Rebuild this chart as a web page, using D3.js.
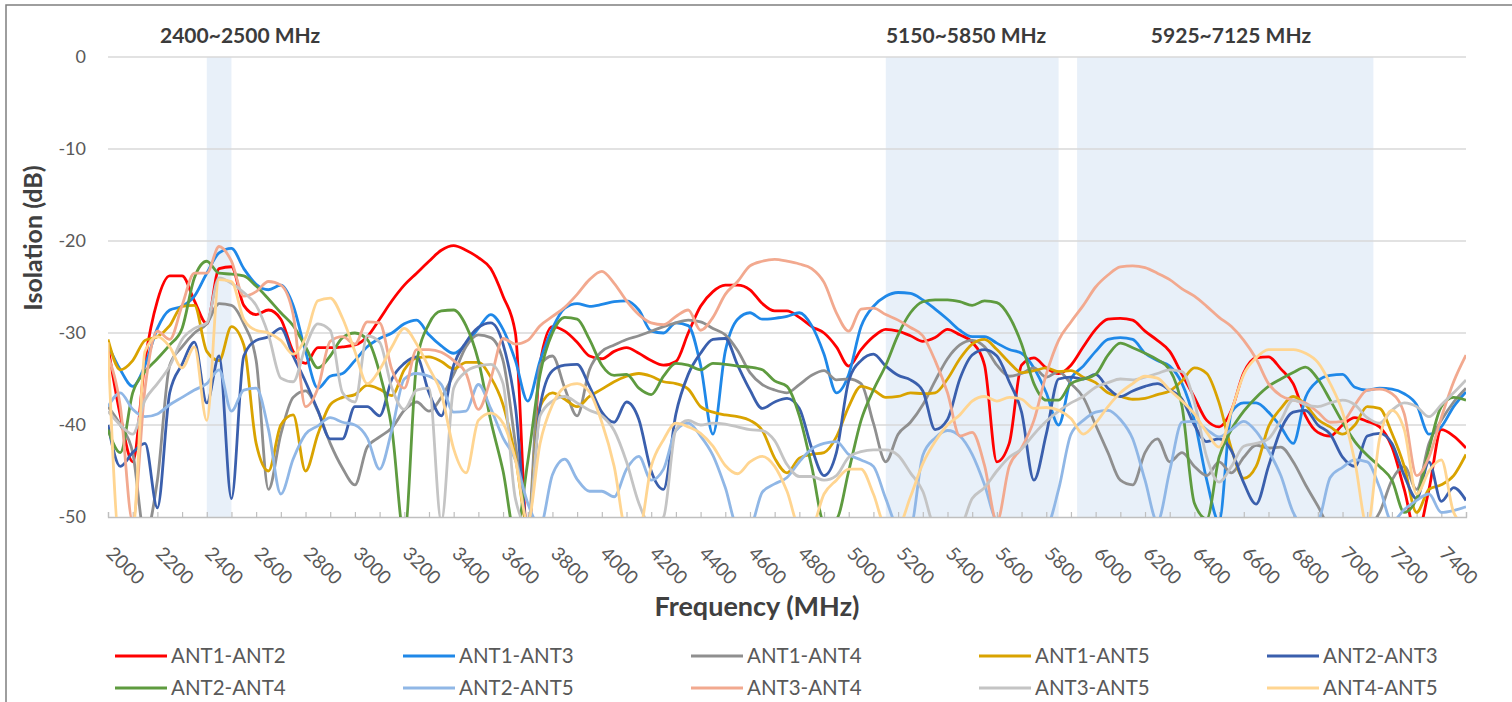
<!DOCTYPE html>
<html>
<head>
<meta charset="utf-8">
<script src="https://cdn.jsdelivr.net/npm/d3@7"></script>
<style>
  html, body { margin: 0; padding: 0; background: #fff; }
  svg { display: block; font-family: Lato, "Open Sans", sans-serif; }
</style>
</head>
<body>
<svg id="chart" width="1512" height="702"></svg>
<script>
// frequency sweep (MHz), one point every 50 MHz
const freqs = d3.range(2000, 7550, 50);

const seriesNames = ['ANT1-ANT2', 'ANT1-ANT3', 'ANT1-ANT4', 'ANT1-ANT5', 'ANT2-ANT3',
                     'ANT2-ANT4', 'ANT2-ANT5', 'ANT3-ANT4', 'ANT3-ANT5', 'ANT4-ANT5'];
const seriesColors = ['#ff0000', '#1f88e8', '#8f8f8f', '#d9a300', '#3a5fad',
                      '#5e9b3f', '#90b7e6', '#f2a98f', '#c4c4c4', '#ffd591'];

// isolation values (dB), rows of 10 points = 500 MHz each
const ant1ant2 = [
  -31.5,-39,-44,-33,-26.5,-23.8,-23.8,-26.5,-29,-23,
  -22.8,-27,-28,-27.5,-28.5,-32,-33.3,-31.6,-31.6,-31.5,
  -31.3,-30.4,-28.5,-26.5,-24.8,-23.5,-22.2,-21,-20.5,-21,
  -21.8,-23,-26,-30,-52,-33.3,-29.3,-29.8,-31,-32.5,
  -32.8,-32,-31.6,-32.2,-33,-33.5,-33.1,-30,-27.1,-25.5,
  -24.8,-24.8,-25.3,-26.8,-27.6,-27.6,-28.3,-29.3,-30,-31.5,
  -33.6,-31.8,-30.4,-29.6,-29.8,-30.3,-30.9,-30.5,-29.6,-30.2,
  -31,-33.5,-44,-42,-33.5,-32.7,-33.8,-34.4,-33.5,-31.5,
  -29.6,-28.5,-28.4,-28.6,-29.8,-30.8,-32,-34.5,-37,-39.5,
  -40.2,-38.4,-34.3,-32.7,-32.6,-33.9,-35.5,-39,-40.8,-41.2,
  -40,-39.2,-39.6,-40.2,-42.4,-47,-52,-47,-40.5,-41.2,
  -42.5
];
const ant1ant3 = [
  -31.3,-34,-35.8,-33.5,-29.5,-27.5,-27.1,-26,-23.5,-21.3,
  -20.8,-23,-24.7,-25.3,-24.8,-27,-32,-36,-34.7,-34.4,
  -33,-31.5,-30.6,-30,-29,-28.6,-30.2,-31.4,-32.2,-31.2,
  -29.5,-28,-29.6,-33,-37.4,-33,-29.5,-27.3,-26.8,-27.1,
  -26.9,-26.6,-26.5,-27.5,-29.8,-30,-28.9,-29.2,-33.5,-41,
  -32,-28.5,-27.8,-28.5,-28.4,-28.2,-27.8,-29.2,-32.3,-36.5,
  -34.5,-29.3,-27.1,-26,-25.6,-25.7,-26.4,-27.4,-28.5,-29.7,
  -30.4,-30.4,-31.1,-31.8,-32.2,-33.8,-36.5,-40,-35,-33.6,
  -32,-30.7,-30.5,-30.7,-32.2,-33,-33.6,-35.5,-39.5,-46,
  -50.5,-38.6,-37.6,-37.6,-38.6,-40.2,-42,-37,-35.2,-34.6,
  -34.5,-35.9,-36.2,-36,-36.1,-36.6,-37.8,-41,-40.2,-38,
  -36.4
];
const ant1ant4 = [
  -38,-40,-43,-52,-46,-33.5,-31.5,-30,-29,-26.8,
  -27,-29,-33,-47,-41,-37,-36.3,-38.5,-42,-44.7,
  -46.5,-42.4,-41.3,-40.3,-38.4,-37.5,-38.5,-37,-34.5,-31.5,
  -30.2,-30.5,-33,-42,-51,-33.5,-32.5,-36,-39,-34,
  -32,-31.3,-30.7,-30.3,-29.8,-29.3,-28.9,-28.6,-28.8,-29.5,
  -30.2,-31.9,-34.3,-35.6,-36.2,-36.5,-35.6,-34.6,-34.1,-35.1,
  -35,-35.5,-39.8,-44,-41,-39.7,-37.8,-35.2,-32.8,-31.3,
  -30.8,-31.5,-33.5,-34.7,-34.4,-33.8,-34.8,-34.2,-35.5,-37,
  -40,-43,-46,-46.5,-43,-41.5,-44,-43,-44.5,-45.5,
  -44,-45.2,-43.5,-42.2,-42.5,-42.4,-44,-46.5,-48.8,-51,
  -51,-51,-51,-49.5,-46,-44.5,-47,-42,-39.5,-37.5,
  -36
];
const ant1ant5 = [
  -30.7,-34,-33,-30.8,-30.4,-29.2,-27.1,-27,-32,-33,
  -29.3,-31.3,-42,-45,-40,-38.9,-45,-41,-37.8,-37,
  -36.7,-35.7,-36.1,-36.8,-34,-32.7,-32.6,-33.1,-33.9,-33.2,
  -33.2,-34.8,-37.8,-43.5,-51,-38,-36.5,-37.2,-38,-36.9,
  -36.1,-35.3,-34.7,-34.4,-34.7,-35.3,-35.5,-36.1,-38,-38.6,
  -38.9,-39.1,-39.5,-40.6,-43.6,-45.2,-43.6,-43.2,-43,-41.3,
  -38,-35.8,-36.2,-37,-36.9,-36.5,-36.6,-36.5,-35,-32.8,
  -31.2,-30.7,-31.8,-33.2,-34.3,-34.1,-33.8,-34.2,-34.1,-34.8,
  -35.4,-36.5,-36.9,-37.2,-37.1,-36.7,-36.3,-35.2,-33.8,-34.4,
  -37.6,-42.6,-45.8,-44.5,-40.2,-38.2,-36.9,-37.8,-39.4,-40.2,
  -41,-40,-38,-38.2,-40.9,-44.5,-49.5,-47,-46.5,-45.5,
  -43.2
];
const ant2ant3 = [
  -40,-44.5,-43,-42,-49,-36.5,-33.4,-31,-37.6,-32.5,
  -48,-32.5,-30.8,-30.4,-29.5,-32.5,-35.3,-38.4,-41.5,-41.5,
  -38,-38,-39,-35,-33.3,-32.6,-36.5,-39,-33.5,-31,
  -29.4,-28.9,-31.2,-38,-51,-38,-34.1,-33.5,-33.4,-35.8,
  -38.6,-39.7,-37.5,-39.4,-45,-47,-38.8,-34.5,-32.2,-30.7,
  -30.6,-33.5,-36.2,-38.2,-37.5,-37.1,-38.2,-42.5,-45.5,-43,
  -35.2,-33,-32.3,-33.6,-34.6,-35.1,-36.3,-40.5,-39.4,-35,
  -32.4,-31.8,-32.5,-35.3,-38.6,-46,-41,-35,-34.8,-35,
  -34.5,-36,-36.9,-36.3,-35.8,-35.5,-36.2,-37.2,-40,-41.8,
  -41.5,-42.8,-46.3,-48.6,-44.5,-40.5,-38.6,-38.4,-40,-41,
  -43.5,-44.5,-41.2,-40.9,-42,-45.5,-48,-44,-48.3,-46.8,
  -48.2
];
const ant2ant4 = [
  -40.5,-43,-36.5,-34.2,-32.8,-31.3,-29.5,-24,-22.2,-23.5,
  -23.6,-23.8,-24.9,-26.3,-27.8,-29.2,-31.5,-33.8,-32.5,-30.5,
  -30,-30.7,-34.3,-40.5,-52,-33.3,-29,-27.6,-27.5,-29.2,
  -33,-39.5,-45,-52,-44,-34.5,-30,-28.3,-28.5,-30.7,
  -33.5,-34.6,-34.5,-36,-36.7,-34.7,-33.3,-33.5,-34,-33.3,
  -33.4,-33.6,-33.7,-34,-35.2,-35.8,-39,-44.5,-50.5,-50.2,
  -45,-39.5,-36.2,-33.5,-30.2,-27.8,-26.6,-26.4,-26.4,-26.6,
  -27,-26.5,-26.7,-28.2,-31.2,-35.5,-37.3,-37.3,-35.5,-35,
  -34.5,-32.4,-31.1,-31.6,-32.2,-32.9,-34,-38,-48.5,-50.2,
  -43.5,-40.5,-38.5,-37,-35.8,-35,-34.3,-33.7,-35,-37.3,
  -39.7,-41.8,-43.3,-44.5,-46,-49.5,-48,-42.6,-38,-37,
  -37.3
];
const ant2ant5 = [
  -38,-36.5,-38.3,-39.1,-38.8,-37.8,-37,-36.2,-35.5,-34,
  -38.5,-36.2,-36,-40.5,-47.5,-43.7,-41,-40.1,-39.2,-39.7,
  -40,-41.4,-44.8,-40.5,-35,-34.4,-34.7,-35.6,-38.6,-38.5,
  -35.6,-38.2,-41.4,-43.8,-48.5,-51,-45.4,-43.7,-45.9,-47.2,
  -47.2,-47.8,-44.8,-43.4,-46,-44.8,-40.6,-39.8,-41.2,-43.3,
  -46.8,-51,-51,-47.3,-46.4,-45.7,-44,-42.6,-42,-41.8,
  -43.2,-43.8,-44.5,-48,-51,-51,-43.3,-41.4,-40.6,-41.2,
  -43.2,-46.5,-50.5,-51,-51,-51,-51,-47,-41,-39.5,
  -38.6,-38.4,-39.4,-41.5,-46,-50.5,-45,-39.7,-39.6,-40.5,
  -41.3,-40.5,-39.6,-40.7,-42.8,-45.5,-49.5,-51,-50.5,-45.7,
  -44.6,-43.8,-44,-46.8,-50.5,-49.2,-48.2,-47.5,-49.5,-49.3,
  -48.9
];
const ant3ant4 = [
  -32.5,-38,-50.5,-36,-29.8,-30.7,-27,-23.5,-23.5,-20.6,
  -22.2,-26,-25.5,-24.4,-24.8,-28,-38,-36,-30.9,-30.4,
  -31.2,-28.8,-28.9,-34,-36,-31.8,-31.8,-32.1,-33,-34.4,
  -38.3,-35,-30.6,-31.2,-30.8,-29.2,-28.2,-27.2,-25.8,-24.2,
  -23.3,-24.6,-26.5,-28,-28.9,-29.1,-28.2,-27.5,-29.7,-28.3,
  -25.8,-24.4,-22.7,-22.2,-22,-22.2,-22.5,-23,-24.5,-27.8,
  -29.8,-27.4,-27.3,-28,-28.6,-29.4,-30.3,-33,-36.5,-41.2,
  -40.8,-44.4,-50.5,-44.5,-42.5,-39.5,-34.5,-30.8,-28.8,-27,
  -25,-23.7,-22.8,-22.7,-22.9,-23.5,-24.2,-25.2,-26,-27.1,
  -28.3,-29.3,-30.8,-32.8,-35.5,-36.8,-37.3,-37.6,-38.6,-39.7,
  -39.6,-37.8,-36.2,-36.1,-36.6,-38.8,-45.5,-43.5,-39.2,-35.3,
  -32.4
];
const ant3ant5 = [
  -38.5,-40,-41,-37.3,-35.5,-33.6,-30.7,-29.5,-28.9,-24,
  -24.6,-25.6,-27,-30.2,-34.9,-35.3,-31.5,-29,-29.7,-36.5,
  -37.5,-30.3,-31,-36,-38.3,-36.2,-36,-50.5,-36,-34.2,
  -33.6,-33.4,-35.5,-48,-51,-39,-37.4,-36.9,-37.6,-38.4,
  -39,-40.6,-44,-48.5,-51,-50,-40.5,-39.5,-40,-39.8,
  -39.9,-40.2,-40.5,-40.6,-41.7,-44.3,-45.6,-45.6,-46,-45.5,
  -43.5,-42.9,-42.7,-42.7,-43.3,-45.2,-47.2,-51,-51,-51,
  -48,-46.8,-45,-43.5,-42.6,-41,-39.6,-38.5,-37.6,-36.9,
  -35.9,-35.4,-35,-35.1,-34.8,-34.4,-34,-34.2,-37.5,-43.5,
  -46.2,-44.5,-42.3,-42,-41.5,-39.5,-37.3,-37.8,-38,-37.6,
  -37.3,-37.8,-39.2,-39.8,-38.4,-37.6,-38,-39.1,-37.8,-36.5,
  -35.1
];
const ant4ant5 = [
  -31,-53,-52,-32,-30.4,-31.5,-33.8,-31.5,-39.5,-24.2,
  -24.4,-28.5,-29.7,-30,-30.8,-32.3,-30.5,-26.5,-26.2,-28.4,
  -32,-35.5,-34,-31.5,-29.5,-31.2,-33.8,-36.6,-42.6,-45.2,
  -39.5,-38.7,-39.8,-43.8,-50.5,-42,-37.8,-35.9,-35.5,-36.4,
  -39.7,-44.5,-51.5,-51.5,-44.5,-41.6,-39.8,-40.2,-40.9,-42.3,
  -44.4,-45.3,-44,-43.4,-44.5,-47.2,-51,-51,-47.5,-46,
  -44.8,-44.8,-47.5,-51,-51,-47.8,-44.2,-41.8,-40,-38.9,
  -37.4,-36.9,-37.4,-37,-37.2,-38.2,-38.1,-38.4,-39.3,-41,
  -39.8,-38,-36.5,-35.5,-34.7,-34.9,-36.2,-37.4,-38.8,-40.8,
  -42.4,-38.5,-34.5,-32.7,-31.8,-31.8,-31.8,-32.2,-33.2,-35.5,
  -38.6,-44,-51,-41.5,-38.4,-40.5,-47.5,-45,-43.8,-49.5,
  -51
];
const seriesValues = [ant1ant2, ant1ant3, ant1ant4, ant1ant5, ant2ant3,
                      ant2ant4, ant2ant5, ant3ant4, ant3ant5, ant4ant5];

// highlighted Wi-Fi bands
const bandStart = [2400, 5150, 5925];
const bandEnd = [2500, 5850, 7125];
const bandLabels = ['2400~2500 MHz', '5150~5850 MHz', '5925~7125 MHz'];
const bandLabelFreq = [2535, 5475, 6548];

const xLabelTicks = d3.range(2000, 7401, 200);
const xMinorTicks = d3.range(2000, 7501, 100);
const yTicks = [0, -10, -20, -30, -40, -50];

const svg = d3.select('#chart');
const plot = { left: 108, right: 1466, top: 57, bottom: 517 };

const x = d3.scaleLinear().domain([2000, 7500]).range([plot.left, plot.right]);
const y = d3.scaleLinear().domain([-50, 0]).range([plot.bottom, plot.top]);

// band shading
svg.append('g')
    .selectAll('rect')
    .data(bandStart)
    .join('rect')
    .attr('x', (d, i) => x(d))
    .attr('y', plot.top)
    .attr('width', (d, i) => x(bandEnd[i]) - x(d))
    .attr('height', plot.bottom - plot.top)
    .attr('fill', '#e8f0f9');

// horizontal gridlines
svg.append('g')
    .selectAll('line')
    .data(yTicks.filter(d => d > -50))
    .join('line')
    .attr('x1', plot.left)
    .attr('x2', plot.right)
    .attr('y1', d => y(d))
    .attr('y2', d => y(d))
    .attr('stroke', '#d9d9d9')
    .attr('stroke-width', 1.3);

// bottom axis with inside minor ticks
const xAxis = svg.append('g')
    .attr('transform', `translate(0,${plot.bottom})`)
    .call(d3.axisBottom(x).tickValues(xMinorTicks).tickSize(-5).tickFormat(''));
xAxis.select('.domain').attr('stroke', '#bfbfbf').attr('stroke-width', 1.3);
xAxis.selectAll('.tick line').attr('stroke', '#bfbfbf').attr('stroke-width', 1.2);

// series
svg.append('defs').append('clipPath').attr('id', 'plotClip')
    .append('rect')
    .attr('x', plot.left)
    .attr('y', plot.top - 2)
    .attr('width', plot.right - plot.left)
    .attr('height', plot.bottom - plot.top + 2);

const line = d3.line()
    .x((d, i) => x(freqs[i]))
    .y(d => y(d))
    .curve(d3.curveMonotoneX);

svg.append('g')
    .attr('clip-path', 'url(#plotClip)')
    .selectAll('path')
    .data(seriesValues)
    .join('path')
    .attr('d', d => line(d))
    .attr('fill', 'none')
    .attr('stroke', (d, i) => seriesColors[i])
    .attr('stroke-width', 2.8)
    .attr('stroke-linejoin', 'round');

// band labels
svg.append('g')
    .selectAll('text')
    .data(bandLabels)
    .join('text')
    .attr('x', (d, i) => x(bandLabelFreq[i]))
    .attr('y', 43)
    .attr('text-anchor', 'middle')
    .attr('font-size', 21)
    .attr('font-weight', 'bold')
    .attr('fill', '#3b3b3b')
    .text(d => d);

// y tick labels
svg.append('g')
    .selectAll('text')
    .data(yTicks)
    .join('text')
    .attr('x', 86)
    .attr('y', d => y(d))
    .attr('dy', '0.35em')
    .attr('text-anchor', 'end')
    .attr('font-size', 18)
    .attr('fill', '#595959')
    .text(d => d);

// x tick labels, rotated 45 degrees
svg.append('g')
    .selectAll('text')
    .data(xLabelTicks)
    .join('text')
    .attr('transform', d => `translate(${x(d) + 2},550) rotate(45)`)
    .attr('dy', '0.35em')
    .attr('font-size', 19)
    .attr('fill', '#595959')
    .text(d => d);

// axis titles
svg.append('text')
    .attr('x', 757)
    .attr('y', 616)
    .attr('text-anchor', 'middle')
    .attr('font-size', 27)
    .attr('font-weight', 'bold')
    .attr('fill', '#404040')
    .text('Frequency (MHz)');

svg.append('text')
    .attr('transform', 'translate(42,238) rotate(-90)')
    .attr('text-anchor', 'middle')
    .attr('font-size', 25)
    .attr('font-weight', 'bold')
    .attr('fill', '#404040')
    .text('Isolation (dB)');

// legend, 5 columns x 2 rows
const legend = svg.append('g')
    .selectAll('g')
    .data(seriesNames)
    .join('g')
    .attr('transform', (d, i) => `translate(${115 + (i % 5) * 288},${656 + Math.floor(i / 5) * 32})`);

legend.append('line')
    .attr('x1', 0)
    .attr('x2', 52)
    .attr('stroke', (d, i) => seriesColors[i])
    .attr('stroke-width', 3);

legend.append('text')
    .attr('x', 56)
    .attr('dy', '0.35em')
    .attr('font-size', 20.5)
    .attr('fill', '#595959')
    .text(d => d);

// chart frame (left and top edges visible)
svg.append('path')
    .attr('d', 'M6,702V5H1512')
    .attr('fill', 'none')
    .attr('stroke', '#7f7f7f')
    .attr('stroke-width', 1.5);
</script>
</body>
</html>
